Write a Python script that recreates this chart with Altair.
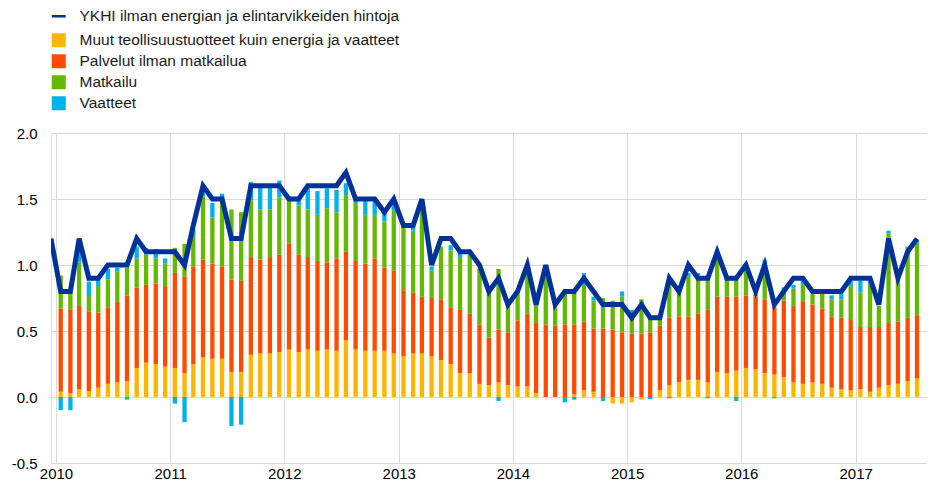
import altair as alt
import pandas as pd

# ---------------- data (monthly, Jan 2010 - Jul 2017) ----------------
start = "2010-01-01"

muut = [  # Muut teollisuustuotteet kuin energia ja vaatteet
    0.04, 0.03, 0.06, 0.045, 0.07, 0.10, 0.11, 0.12, 0.22, 0.26, 0.25, 0.23,
    0.22, 0.18, 0.25, 0.30, 0.29, 0.29, 0.19, 0.19, 0.32, 0.33, 0.33, 0.34,
    0.36, 0.34, 0.36, 0.35, 0.36, 0.35, 0.43, 0.36, 0.35, 0.35, 0.35, 0.33,
    0.31, 0.33, 0.33, 0.31, 0.28, 0.25, 0.18, 0.18, 0.10, 0.09, 0.11, 0.09,
    0.08, 0.08, 0.03, 0.0, 0.0, 0.0, 0.02, 0.05, 0.04, 0.0, -0.05, -0.05,
    -0.04, -0.02, 0.0, 0.05, 0.09, 0.11, 0.13, 0.13, 0.11, 0.19, 0.18, 0.20,
    0.22, 0.21, 0.18, 0.17, 0.15, 0.11, 0.10, 0.11, 0.10, 0.07, 0.06, 0.05,
    0.06, 0.04, 0.07, 0.09, 0.10, 0.12, 0.14,
]
palvelut = [  # Palvelut ilman matkailua
    0.63, 0.63, 0.63, 0.60, 0.57, 0.58, 0.61, 0.65, 0.61, 0.59, 0.61, 0.61,
    0.72, 0.73, 0.74, 0.74, 0.72, 0.70, 0.70, 0.69, 0.74, 0.71, 0.73, 0.74,
    0.80, 0.74, 0.70, 0.68, 0.66, 0.70, 0.67, 0.67, 0.66, 0.70, 0.63, 0.63,
    0.50, 0.46, 0.43, 0.44, 0.46, 0.43, 0.48, 0.45, 0.45, 0.36, 0.40, 0.40,
    0.50, 0.55, 0.53, 0.55, 0.54, 0.55, 0.53, 0.52, 0.48, 0.52, 0.51, 0.49,
    0.48, 0.48, 0.49, 0.49, 0.51, 0.50, 0.48, 0.50, 0.55, 0.57, 0.58, 0.56,
    0.55, 0.55, 0.56, 0.51, 0.58, 0.58, 0.62, 0.59, 0.57, 0.54, 0.54, 0.54,
    0.47, 0.49, 0.46, 0.47, 0.47, 0.48, 0.48,
]
matkailu = [  # Matkailu
    0.25, 0.12, 0.33, 0.12, 0.20, 0.21, 0.23, 0.21, 0.22, 0.23, 0.19, 0.17,
    0.19, 0.25, 0.23, 0.48, 0.35, 0.52, 0.53, 0.52, 0.43, 0.38, 0.36, 0.43,
    0.35, 0.37, 0.36, 0.35, 0.41, 0.35, 0.43, 0.44, 0.37, 0.33, 0.35, 0.45,
    0.49, 0.47, 0.69, 0.21, 0.40, 0.43, 0.40, 0.45, 0.42, 0.35, 0.46, 0.21,
    0.21, 0.31, 0.14, 0.44, 0.14, 0.23, 0.24, 0.28, 0.21, 0.23, 0.22, 0.27,
    0.12, 0.26, 0.11, 0.06, 0.25, 0.19, 0.30, 0.29, 0.25, 0.28, 0.14, 0.14,
    0.20, 0.02, 0.26, -0.01, 0.07, 0.13, 0.13, 0.08, 0.11, 0.13, 0.14, 0.25,
    0.26, 0.32, 0.16, 0.68, 0.32, 0.53, 0.55,
]
vaatteet = [  # Vaatteet
    -0.10, -0.10, 0.10, 0.11, 0.05, 0.08, 0.03, -0.02, 0.09, 0.05, 0.07, 0.04,
    -0.05, -0.19, 0.05, 0.04, 0.11, 0.03, -0.22, -0.21, 0.14, 0.17, 0.17, 0.13,
    0.01, 0.05, 0.16, 0.18, 0.15, 0.17, 0.09, 0.03, 0.12, 0.10, 0.07, 0.05,
    0.01, 0.03, 0.0, 0.03, 0.0, 0.04, 0.03, 0.0, 0.0, 0.0, -0.03, 0.0,
    0.0, 0.03, 0.0, 0.0, 0.0, -0.04, -0.02, 0.09, 0.03, -0.03, 0.0, 0.04,
    0.06, 0.0, -0.015, 0.0, -0.01, 0.0, 0.03, 0.02, -0.01, 0.0, 0.0, -0.03,
    0.0, 0.0, 0.04, 0.0, 0.03, 0.03, 0.03, 0.0, 0.0, 0.03, 0.04, 0.04,
    0.09, 0.03, 0.0, 0.02, 0.0, 0.01, 0.02,
]
ykhi_dec2009 = 1.2
ykhi = [  # YKHI ilman energian ja elintarvikkeiden hintoja
    0.8, 0.8, 1.2, 0.9, 0.9, 1.0, 1.0, 1.0, 1.2, 1.1, 1.1, 1.1,
    1.1, 1.0, 1.3, 1.6, 1.5, 1.5, 1.2, 1.2, 1.6, 1.6, 1.6, 1.6,
    1.5, 1.5, 1.6, 1.6, 1.6, 1.6, 1.7, 1.5, 1.5, 1.5, 1.4, 1.5,
    1.3, 1.3, 1.5, 1.0, 1.2, 1.2, 1.1, 1.1, 1.0, 0.8, 0.9, 0.7,
    0.8, 1.0, 0.7, 1.0, 0.7, 0.8, 0.8, 0.9, 0.8, 0.7, 0.7, 0.7,
    0.6, 0.7, 0.6, 0.6, 0.9, 0.8, 1.0, 0.9, 0.9, 1.1, 0.9, 0.9,
    1.0, 0.8, 1.0, 0.7, 0.8, 0.9, 0.9, 0.8, 0.8, 0.8, 0.8, 0.9,
    0.9, 0.9, 0.7, 1.2, 0.9, 1.1, 1.2,
]

series_names = [
    "Muut teollisuustuotteet kuin energia ja vaatteet",
    "Palvelut ilman matkailua",
    "Matkailu",
    "Vaatteet",
]
series_colors = ["#FFB400", "#FF4B00", "#65B800", "#00B1EA"]
line_name = "YKHI ilman energian ja elintarvikkeiden hintoja"
line_color = "#003299"
y_ticks = [-0.5, 0.0, 0.5, 1.0, 1.5, 2.0]

# ---------------- tables ----------------
n = len(ykhi)
dates = pd.date_range(start, periods=n, freq="MS") + pd.Timedelta(days=15)
date_str = [d.strftime("%Y-%m-%dT00:00:00") for d in dates]

rows = []
for k, (name, vals) in enumerate(zip(series_names, [muut, palvelut, matkailu, vaatteet])):
    for d, v in zip(date_str, vals):
        rows.append({"date": d, "component": name, "value": v, "rank": k})
bar_df = pd.DataFrame(rows)

line_df = pd.DataFrame({
    "date": ["2009-12-16T00:00:00"] + date_str,
    "value": [ykhi_dec2009] + ykhi,
    "series": line_name,
})

FONT = "Liberation Sans"
xscale = alt.Scale(domain=[alt.DateTime(year=2010, month=1, date=1),
                           alt.DateTime(year=2017, month=8, date=1)])
yscale = alt.Scale(domain=[-0.5, 2.0], nice=False, zero=False)

xaxis = alt.Axis(format="%Y", tickCount={"interval": "year", "step": 1},
                 grid=True, gridColor="#d9d9d9", gridWidth=1, domain=False,
                 ticks=False, labelPadding=3, labelFlush=False,
                 labelFont=FONT, labelFontSize=15, labelColor="#000000")
yaxis = alt.Axis(values=y_ticks, grid=True, gridColor="#d9d9d9", gridWidth=1,
                 domain=False, ticks=False, labelPadding=14,
                 labelExpr="datum.value < 0 ? '-' + format(-datum.value, '.1f') : format(datum.value, '.1f')",
                 labelFont=FONT, labelFontSize=15, labelColor="#000000")

bars = alt.Chart(bar_df).mark_bar(size=4.3).encode(
    x=alt.X("date:T", scale=xscale, axis=xaxis, title=None),
    y=alt.Y("value:Q", stack="zero", scale=yscale, axis=yaxis, title=None),
    fill=alt.Fill("component:N",
                  scale=alt.Scale(domain=series_names, range=series_colors),
                  legend=alt.Legend(orient="none", legendX=0, legendY=-100.5,
                                    title=None, symbolType="square", symbolSize=196,
                                    symbolStrokeWidth=0, labelFont=FONT,
                                    labelFontSize=15.5, labelColor="#1a1a1a",
                                    labelLimit=600, labelOffset=13, rowPadding=4,
                                    padding=0)),
    order=alt.Order("rank:Q", sort="ascending"),
)

line = alt.Chart(line_df).mark_line(strokeWidth=5, clip=True).encode(
    x=alt.X("date:T", scale=xscale),
    y=alt.Y("value:Q", scale=yscale),
    stroke=alt.Stroke("series:N",
                      scale=alt.Scale(domain=[line_name], range=[line_color]),
                      legend=alt.Legend(orient="none", legendX=0, legendY=-124.5,
                                        title=None,
                                        symbolType="M-1,-0.18H1V0.18H-1Z",
                                        symbolSize=196, symbolFillColor=line_color,
                                        symbolStrokeWidth=0, labelFont=FONT,
                                        labelFontSize=15.5, labelColor="#1a1a1a",
                                        labelLimit=600, labelOffset=13, padding=0)),
)

chart = alt.layer(bars, line).properties(
    width=876, height=330,
    padding={"left": 43, "top": 125, "right": 0, "bottom": 22},
    autosize=alt.AutoSizeParams(type="none"),
).configure_view(strokeWidth=0).configure(background="white")

chart.save("out.html", embed_options={"renderer": "svg", "actions": False})
